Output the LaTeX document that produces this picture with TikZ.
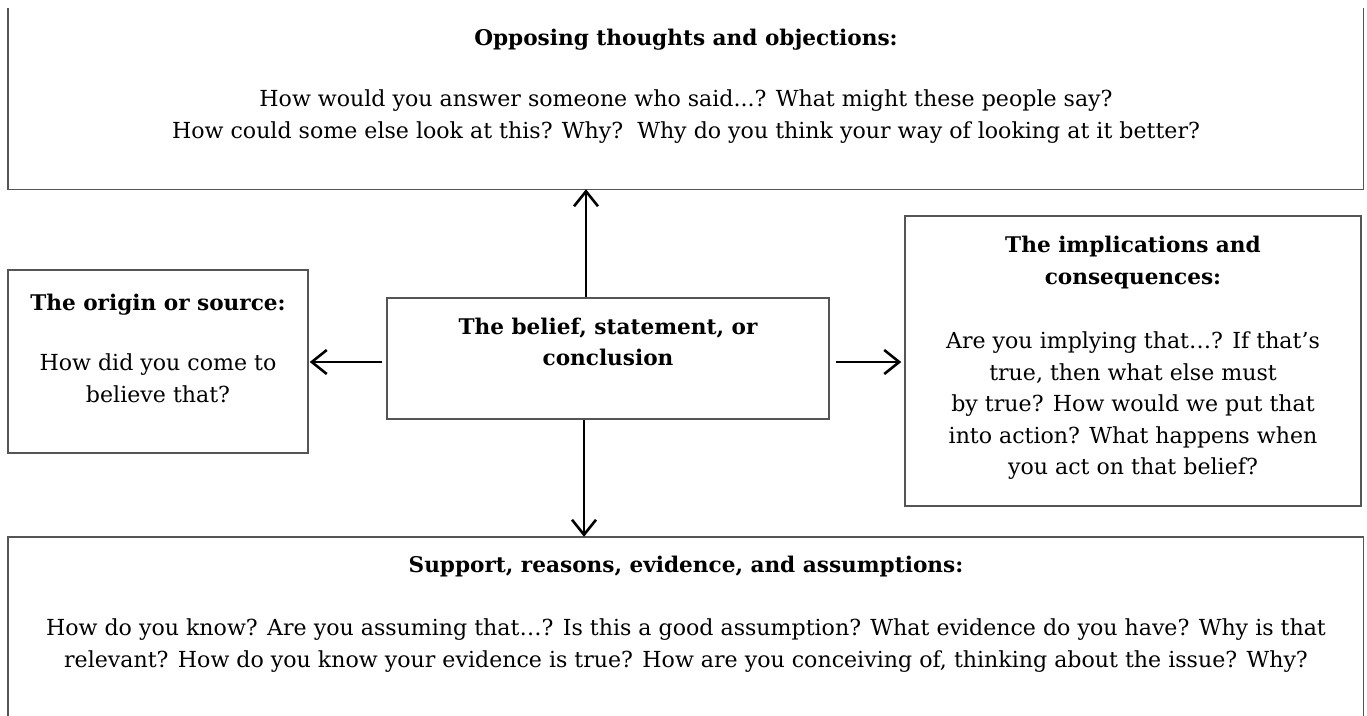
\documentclass[tikz,border=0pt]{standalone}
\usepackage{fontspec}
\setmainfont{DejaVu Serif}
\usetikzlibrary{arrows.meta}
\definecolor{edgegray}{HTML}{555555}
\begin{document}
\begin{tikzpicture}[x=1pt,y=-1pt,
  frame/.style={draw=edgegray,line width=1.4pt,inner sep=0pt},
  ghost/.style={inner sep=0pt},
  txt/.style={align=center,inner sep=0pt,font=\fontsize{22.1}{31.5}\selectfont},
  ttl/.style={align=center,inner sep=0pt,font=\fontsize{21.6}{31.5}\selectfont\bfseries},
  arr/.style={line width=2.6pt,-{Straight Barb[length=15pt,width=24pt,line width=2.6pt]}}
]
\useasboundingbox (0,0) rectangle (1367,715);
% boxes
\node[ghost,minimum width=1355pt,minimum height=181pt] (top) at (685.5,98.5) {};
\draw[draw=edgegray,line width=1.4pt] (top.north west) -- (top.south west) -- (top.south east) -- (top.north east);
\node[ghost,minimum width=1355pt,minimum height=180pt] (bot) at (685.5,627) {};
\draw[draw=edgegray,line width=1.4pt] (bot.south west) -- (bot.north west) -- (bot.north east) -- (bot.south east);
\node[frame,minimum width=300pt,minimum height=183pt] (left) at (158,361.5) {};
\node[frame,minimum width=442pt,minimum height=121pt] (mid) at (608,358.5) {};
\node[frame,minimum width=456pt,minimum height=290pt] (right) at (1133,361) {};
% texts
\node[ttl] (toptitle) at (686,40) {Opposing thoughts and objections:};
\node[txt] (toptext) at (686,116.5) {How would you answer someone who said...? What might these people say?\\How could some else look at this? Why?\ \ Why do you think your way of looking at it better?};
\node[ttl] (lefttitle) at (158,305) {The origin or source:};
\node[txt] (lefttext) at (158,378.5) {How did you come to\\believe that?};
\node[ttl] (midtext) at (608,342) {The belief, statement, or\\conclusion};
\node[ttl] (righttitle) at (1133,262.5) {The implications and\\consequences:};
\node[txt] (righttext) at (1133,406) {Are you implying that…? If that’s\\true, then what else must\\by true? How would we put that\\into action? What happens when\\you act on that belief?};
\node[ttl] (bottitle) at (686,567) {Support, reasons, evidence, and assumptions:};
\node[txt] (bottext) at (686,645.5) {How do you know? Are you assuming that…? Is this a good assumption? What evidence do you have? Why is that\\relevant? How do you know your evidence is true? How are you conceiving of, thinking about the issue? Why?};
% arrows
\draw[arr] ([xshift=-22pt]mid.north) -- ([xshift=-22pt]mid.north |- top.south);
\draw[arr] ([xshift=-24pt]mid.south) -- ([xshift=-24pt]mid.south |- bot.north);
\draw[arr] ([xshift=-4pt,yshift=-3.5pt]mid.west) -- ([xshift=1pt,yshift=-3.5pt]left.east |- mid.west);
\draw[arr] ([xshift=6pt,yshift=-3.5pt]mid.east) -- ([xshift=-3pt,yshift=-3.5pt]right.west |- mid.east);
\end{tikzpicture}
\end{document}
